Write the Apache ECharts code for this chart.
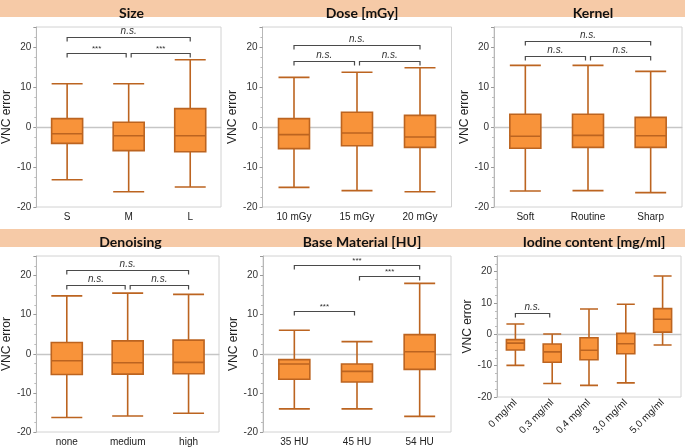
<!DOCTYPE html>
<html><head><meta charset="utf-8">
<script src="https://cdn.jsdelivr.net/npm/echarts@6/dist/echarts.min.js"></script>
<style>html,body{margin:0;padding:0;background:#fff}#c{width:685px;height:447px}</style>
</head><body><div id="c"></div>
<script>
// ---- data ----
const titles = ['Size', 'Dose [mGy]', 'Kernel', 'Denoising', 'Base Material [HU]', 'Iodine content [mg/ml]'];

const sizeCats = ['S', 'M', 'L'];
const sizeBoxes = [[-13.2, -4.1, -1.7, 2.1, 10.8], [-16.2, -5.9, -2.2, 1.2, 10.8], [-15.0, -6.2, -2.2, 4.6, 16.8]];
const sizeBrackets = [[0, 2, 22.5, 'n.s.'], [0, 1, 18.6, '***'], [1, 2, 18.6, '***']];

const doseCats = ['10 mGy', '15 mGy', '20 mGy'];
const doseBoxes = [[-15.1, -5.4, -1.9, 2.1, 12.4], [-15.9, -4.7, -1.5, 3.7, 13.7], [-16.2, -5.1, -2.5, 2.9, 14.8]];
const doseBrackets = [[0, 2, 20.6, 'n.s.'], [0, 1, 16.6, 'n.s.'], [1, 2, 16.6, 'n.s.']];

const kernelCats = ['Soft', 'Routine', 'Sharp'];
const kernelBoxes = [[-16.0, -5.3, -2.3, 3.2, 15.4], [-15.9, -5.1, -2.1, 3.2, 15.4], [-16.4, -5.1, -2.2, 2.4, 13.9]];
const kernelBrackets = [[0, 2, 21.5, 'n.s.'], [0, 1, 17.7, 'n.s.'], [1, 2, 17.7, 'n.s.']];

const denoiseCats = ['none', 'medium', 'high'];
const denoiseBoxes = [[-16.3, -5.3, -1.8, 2.9, 14.8], [-15.9, -5.2, -2.3, 3.3, 15.5], [-15.2, -5.1, -2.2, 3.5, 15.2]];
const denoiseBrackets = [[0, 2, 21.3, 'n.s.'], [0, 1, 17.5, 'n.s.'], [1, 2, 17.5, 'n.s.']];

const baseCats = ['35 HU', '45 HU', '54 HU'];
const baseBoxes = [[-14.1, -6.5, -2.6, -1.5, 6.0], [-14.1, -7.2, -4.5, -2.6, 3.1], [-16.0, -4.0, 0.5, 4.9, 18.0]];
const baseBrackets = [[0, 2, 22.6, '***'], [1, 2, 19.9, '***'], [0, 1, 10.9, '***']];

const iodineCats = ['0 mg/ml', '0,3 mg/ml', '0,4 mg/ml', '3,0 mg/ml', '5,0 mg/ml'];
const iodineBoxes = [[-9.9, -5.0, -2.8, -1.7, 3.3], [-15.7, -8.9, -5.6, -3.1, 0.1], [-16.3, -8.1, -5.1, -1.1, 8.1],
                     [-15.5, -6.2, -3.0, 0.3, 9.6], [-3.4, 0.7, 4.8, 8.2, 18.6]];
const iodineBrackets = [[0, 1, 6.8, 'n.s.']];

const yTicksMin = -20, yTicksMax = 25, yTickStep = 10;

// ---- layout ----
const panels = [
  { cats: sizeCats, boxes: sizeBoxes, br: sizeBrackets, left: 32, top: 27, width: 189, height: 180, bw: 31 },
  { cats: doseCats, boxes: doseBoxes, br: doseBrackets, left: 262.5, top: 27, width: 189, height: 180, bw: 31 },
  { cats: kernelCats, boxes: kernelBoxes, br: kernelBrackets, left: 494, top: 27, width: 188, height: 180, bw: 31 },
  { cats: denoiseCats, boxes: denoiseBoxes, br: denoiseBrackets, left: 32, top: 256, width: 187, height: 181, bw: 31 },
  { cats: baseCats, boxes: baseBoxes, br: baseBrackets, left: 263, top: 256, width: 188, height: 181, bw: 31 },
  { cats: iodineCats, boxes: iodineBoxes, br: iodineBrackets, left: 497, top: 256, width: 184, height: 141, bw: 18, rot: true }
];
const titleX = [126.5, 357, 588, 125.5, 357, 589];
const titleY = [1, 1, 1, 230, 230, 230];

const FONT = '"Liberation Sans", Arial, sans-serif';
const grids = [], xAxes = [], yAxes = [], series = [], titleArr = [];

function bracketRender(list, n) {
  return function (params, api) {
    const b = list[params.dataIndex];
    const p1 = api.coord([b[0], b[2]]);
    const p2 = api.coord([b[1], b[2]]);
    let x1 = p1[0], x2 = p2[0];
    const y = Math.round(p1[1]) + 0.5;
    if (b[0] > 0) x1 += 2.5;
    if (b[1] < n - 1) x2 -= 2.5;
    const t = 4;
    const star = b[3] === '***';
    return {
      type: 'group',
      children: [
        { type: 'polyline', shape: { points: [[x1, y + t], [x1, y], [x2, y], [x2, y + t]] },
          style: { stroke: '#4a4a4a', lineWidth: 1.2, fill: null } },
        { type: 'text', style: { text: b[3], x: (x1 + x2) / 2, y: star ? y - 0.5 : y - 1.5,
          align: 'center', verticalAlign: 'bottom', fill: '#333',
          font: (star ? 'normal 8px ' : 'italic 10px ') + FONT } }
      ]
    };
  };
}

panels.forEach((p, i) => {
  grids.push({ left: p.left, top: p.top, width: p.width, height: p.height, show: true,
    borderColor: '#d2d2d2', borderWidth: 1, backgroundColor: 'transparent' });
  xAxes.push({ type: 'category', gridIndex: i, data: p.cats, boundaryGap: true,
    axisLine: { show: true, lineStyle: { color: '#c8c8c8' } }, axisTick: { show: false },
    axisLabel: p.rot ? { rotate: 45, fontSize: 10, color: '#222', fontFamily: FONT, margin: 4, interval: 0 }
                     : { fontSize: 10, color: '#222', fontFamily: FONT, margin: 5, interval: 0 } });
  yAxes.push({ type: 'value', gridIndex: i, min: yTicksMin, max: yTicksMax, interval: yTickStep,
    name: 'VNC error', nameLocation: 'middle', nameGap: 20, nameRotate: 90,
    nameTextStyle: { fontSize: 12, color: '#222', fontFamily: FONT },
    axisLine: { show: true, lineStyle: { color: '#b8b8b8' } },
    axisTick: { show: true, length: 3, lineStyle: { color: '#999' } },
    minorTick: { show: true, splitNumber: 4, length: 2, lineStyle: { color: '#bbb' } },
    splitLine: { show: false },
    axisLabel: { fontSize: 10, color: '#333', fontFamily: FONT, margin: 5, showMaxLabel: false } });
  series.push({ type: 'custom', xAxisIndex: i, yAxisIndex: i, z: 1, silent: true, data: [[0, 0]],
    renderItem: function (params, api) {
      const cs = params.coordSys; const y = Math.round(api.coord([0, 0])[1]) + 0.5;
      return { type: 'line', shape: { x1: cs.x, y1: y, x2: cs.x + cs.width, y2: y },
        style: { stroke: '#c6c6c6', lineWidth: 1.5 } };
    } });
  series.push({ type: 'boxplot', xAxisIndex: i, yAxisIndex: i, z: 3, data: p.boxes,
    boxWidth: [p.bw, p.bw],
    itemStyle: { color: '#F8933A', borderColor: '#BC6420', borderWidth: 1.6 } });
  series.push({ type: 'custom', xAxisIndex: i, yAxisIndex: i, z: 4, silent: true,
    data: p.br.map(b => [b[0], b[2]]), encode: { x: 0, y: 1 },
    renderItem: bracketRender(p.br, p.cats.length) });
  titleArr.push({ text: titles[i], left: titleX[i], top: titleY[i], textAlign: 'center',
    textStyle: { fontSize: 14, fontWeight: 'bold', color: '#111', fontFamily: 'Lato, "Open Sans", sans-serif' } });
});

const chart = echarts.init(document.getElementById('c'), null, { renderer: 'canvas' });
chart.setOption({
  animation: false,
  backgroundColor: '#fff',
  graphic: [
    { type: 'rect', shape: { x: 0, y: 0, width: 685, height: 17 }, style: { fill: '#F6CAA7' }, z: -1 },
    { type: 'rect', shape: { x: 0, y: 229, width: 685, height: 18 }, style: { fill: '#F6CAA7' }, z: -1 }
  ],
  title: titleArr,
  grid: grids,
  xAxis: xAxes,
  yAxis: yAxes,
  series: series
});
</script>
</body></html>
